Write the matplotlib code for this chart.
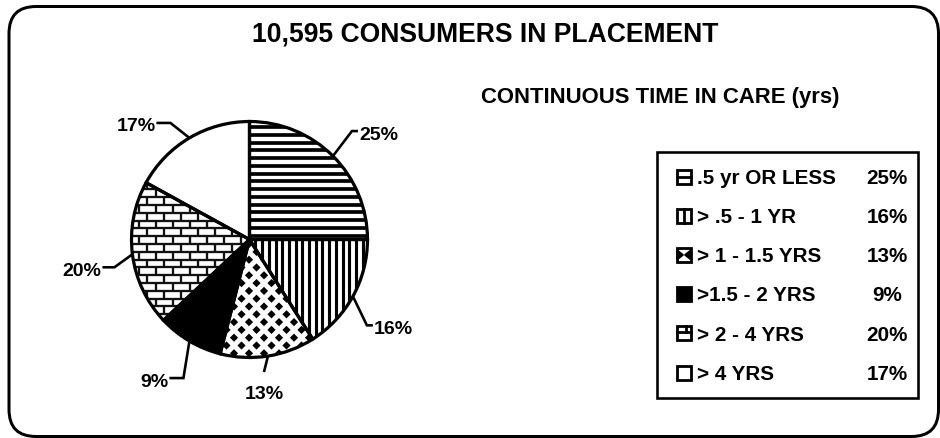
import numpy as np
import matplotlib
matplotlib.use('Agg')
import matplotlib.pyplot as plt
from matplotlib import font_manager
from matplotlib.patches import Wedge, Rectangle, FancyBboxPatch, Polygon
from matplotlib.collections import LineCollection, PolyCollection

# ---------------- data ----------------
title = "10,595 CONSUMERS IN PLACEMENT"
subtitle = "CONTINUOUS TIME IN CARE (yrs)"
categories = [".5 yr OR LESS", "> .5 - 1 YR", "> 1 - 1.5 YRS", ">1.5 - 2 YRS", "> 2 - 4 YRS", "> 4 YRS"]
shares = [25, 16, 13, 9, 20, 17]
pct_labels = [f"{v}%" for v in shares]

# ---------------- style ----------------
W, H = 940, 438
PX = 100 / 72.0  # pixels per point


def has_font(name):
    try:
        font_manager.findfont(font_manager.FontProperties(family=name),
                              fallback_to_default=False)
        return True
    except Exception:
        return False


FONT = (['Liberation Sans Narrow'] if has_font('Liberation Sans Narrow') else []) + \
       ['Liberation Sans', 'DejaVu Sans']

patterns = ['hlines', 'vlines', 'diamonds', 'solid', 'bricks', 'blank']
face = ['white', 'white', 'white', 'black', 'white', 'white']
leader_elbow = [(19, -25), (14, 29), (-4, 16), (-6, 37), (-18, 13), (-19, -15)]
leader_run = [6, 6, 0, -14, -12, -14]

fig = plt.figure(figsize=(W / 100, H / 100), dpi=100)
ax = fig.add_axes([0, 0, 1, 1])
renderer = fig.canvas.get_renderer()

cx, cy, R = 249.5, 239.5, 118

wedges, _ = ax.pie(shares, startangle=-90, counterclock=True, center=(cx, cy),
                   radius=R, colors=face, wedgeprops=dict(linewidth=0))
ax.set_xlim(0, W)
ax.set_ylim(H, 0)
ax.set_aspect('auto')
ax.axis('off')


def fit_size(text, target_px, start=14):
    t = ax.text(0, 0, text, fontsize=start, fontweight='bold', family=FONT)
    wpx = t.get_window_extent(renderer).width
    t.remove()
    return start * target_px / wpx


TITLE_PT = fit_size(title, 468)
SUB_PT = fit_size(subtitle, 360)
LEG_PT = fit_size(categories[0], 139)
LBL_PT = fit_size(pct_labels[0], 39)


def capy(yc, pt):
    """baseline y so that capitals are vertically centred on yc"""
    return yc + 0.716 * pt * PX / 2


# ---- fill patterns clipped to wedges ----
x0, x1 = cx - R - 10, cx + R + 10
y0, y1 = cy - R - 10, cy + R + 10
for w, pat in zip(wedges, patterns):
    coll = None
    if pat == 'hlines':
        ys = np.arange(y0, y1, 7.75)
        segs = [[(x0, y), (x1, y)] for y in ys]
        coll = LineCollection(segs, colors='black', linewidths=3.7 / PX)
    elif pat == 'vlines':
        xs = np.arange(x0, x1, 6.7)
        segs = [[(x, y0), (x, y1)] for x in xs]
        coll = LineCollection(segs, colors='black', linewidths=3.1 / PX)
    elif pat == 'diamonds':
        polys = []
        step, rowh, hd = 15.0, 7.8, 4.1
        for k, yy in enumerate(np.arange(y0, y1, rowh)):
            off = (k % 2) * step / 2
            for xx in np.arange(x0 + off, x1, step):
                polys.append([(xx - hd, yy), (xx, yy - hd), (xx + hd, yy), (xx, yy + hd)])
        coll = PolyCollection(polys, facecolors='black', edgecolors='none')
    elif pat == 'bricks':
        segs = []
        rowh, bl = 7.8, 17.0
        ys = np.arange(y0, y1, rowh)
        for y in ys:
            segs.append([(x0, y), (x1, y)])
        for k, y in enumerate(ys[:-1]):
            off = (k % 2) * bl / 2
            for xx in np.arange(x0 + off, x1, bl):
                segs.append([(xx, y), (xx, y + rowh)])
        coll = LineCollection(segs, colors='#111111', linewidths=2.3 / PX)
    if coll is not None:
        coll.set_zorder(2)
        ax.add_collection(coll)
        coll.set_clip_path(w)

# ---- wedge outlines ----
for w in wedges:
    ax.add_patch(Wedge((cx, cy), R, w.theta1, w.theta2, fill=False,
                       ec='black', lw=3.2 / PX, zorder=4))

# ---- percentage labels with leader lines ----
for w, lab, (dx, dy), run in zip(wedges, pct_labels, leader_elbow, leader_run):
    th = np.deg2rad((w.theta1 + w.theta2) / 2)
    ex, ey = cx + R * np.cos(th), cy + R * np.sin(th)
    bx, by = ex + dx, ey + dy
    pts = [(ex, ey), (bx, by)]
    if run != 0:
        pts.append((bx + run, by))
    ax.plot([p[0] for p in pts], [p[1] for p in pts], color='black',
            lw=2.6 / PX, zorder=5, solid_capstyle='butt', solid_joinstyle='miter')
    if run > 0:
        ax.text(bx + run + 1, capy(by + 1.5, LBL_PT), lab, ha='left', va='baseline',
                fontsize=LBL_PT, fontweight='bold', family=FONT)
    elif run < 0:
        ax.text(bx + run - 1, capy(by + 1.5, LBL_PT), lab, ha='right', va='baseline',
                fontsize=LBL_PT, fontweight='bold', family=FONT)
    else:
        ax.text(bx, capy(by + 20, LBL_PT), lab, ha='center', va='baseline',
                fontsize=LBL_PT, fontweight='bold', family=FONT)

# ---- titles ----
ax.text(485, capy(32, TITLE_PT), title, ha='center', va='baseline', fontsize=TITLE_PT,
        fontweight='bold', family=FONT)
ax.text(660.5, capy(95, SUB_PT), subtitle, ha='center', va='baseline', fontsize=SUB_PT,
        fontweight='bold', family=FONT)

# ---- legend ----
lx, ly, lw_, lh = 657, 152, 261, 246
ax.add_patch(Rectangle((lx, ly), lw_, lh, fill=True, fc='white', ec='black',
                       lw=2.6 / PX, zorder=3))
row0, rowgap = 176.5, 39.2
iw, ih = 14, 14
ilx = 677
for i, (cat, pct, pat) in enumerate(zip(categories, pct_labels, patterns)):
    yc = row0 + i * rowgap
    ix, iy = ilx, yc - ih / 2
    fc = 'black' if pat == 'solid' else 'white'
    ax.add_patch(Rectangle((ix, iy), iw, ih, fc=fc, ec='black', lw=2.8 / PX, zorder=5))
    ilw = 2.8 / PX
    if pat == 'hlines':
        ax.plot([ix, ix + iw], [yc, yc], color='black', lw=ilw, zorder=6)
    elif pat == 'vlines':
        ax.plot([ix + iw / 2, ix + iw / 2], [iy, iy + ih], color='black', lw=ilw, zorder=6)
    elif pat == 'diamonds':
        ax.add_patch(Polygon([(ix, iy + 2), (ix + iw * 0.45, yc), (ix, iy + ih - 2)],
                             closed=True, fc='black', ec='black', lw=1, zorder=6))
        ax.add_patch(Polygon([(ix + iw, iy + 2), (ix + iw * 0.55, yc), (ix + iw, iy + ih - 2)],
                             closed=True, fc='black', ec='black', lw=1, zorder=6))
    elif pat == 'bricks':
        hy = iy + ih * 0.42
        ax.plot([ix, ix + iw], [hy, hy], color='black', lw=ilw, zorder=6)
        ax.plot([ix + iw * 0.62, ix + iw * 0.62], [iy, hy], color='black', lw=ilw, zorder=6)
    ax.text(697, capy(yc, LEG_PT), cat, ha='left', va='baseline', fontsize=LEG_PT,
            fontweight='bold', family=FONT, zorder=6)
    ax.text(887, capy(yc, LEG_PT), pct, ha='center', va='baseline', fontsize=LEG_PT,
            fontweight='bold', family=FONT, zorder=6)

# ---- rounded outer frame ----
ax.add_patch(FancyBboxPatch((9, 6.5), 929.5, 430, boxstyle='round,pad=0,rounding_size=27',
                            fill=False, ec='black', lw=3.0 / PX, zorder=7))

fig.savefig('out.png', dpi=100)
